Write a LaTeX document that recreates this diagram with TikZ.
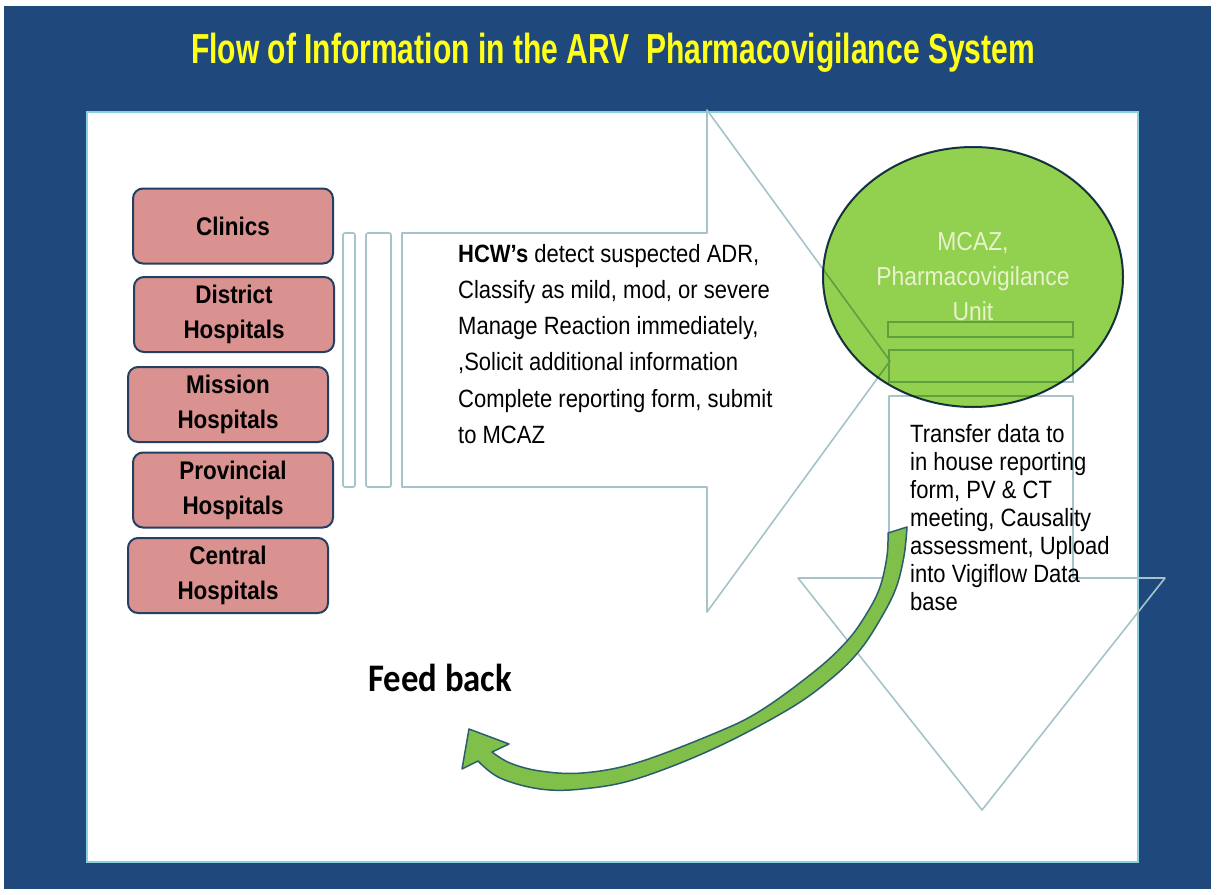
\documentclass[tikz,border=0pt]{standalone}
\usepackage{fontspec}
\setmainfont{Liberation Sans}
\newfontfamily\narrowsans[FakeStretch=0.88]{Liberation Sans}
\newfontfamily\titlesans[FakeStretch=0.715]{Liberation Sans}
\newfontfamily\calibrisans[FakeStretch=0.89]{Carlito}
\usetikzlibrary{shapes.geometric}

\definecolor{slideblue}{HTML}{1F497D}
\definecolor{panelline}{HTML}{8CCFE0}
\definecolor{outlinecol}{HTML}{A5C3C9}
\definecolor{boxfill}{HTML}{D9928F}
\definecolor{boxline}{HTML}{243F60}
\definecolor{ellfill}{HTML}{92D050}
\definecolor{ellline}{HTML}{1F3864}
\definecolor{elltext}{HTML}{E8F2CC}
\definecolor{fbfill}{HTML}{80C04A}
\definecolor{fbline}{HTML}{2B5D6B}
\definecolor{titleyellow}{HTML}{FFFF1A}

\tikzset{
  sitebox/.style={draw=boxline, fill=boxfill, line width=2pt, rounded corners=10pt,
    minimum width=200pt, minimum height=75pt, inner sep=0pt, align=center,
    font=\narrowsans\bfseries\fontsize{25.5}{35}\selectfont, text=black},
  hollow/.style={draw=outlinecol, line width=1.6pt, line join=round},
  stripe/.style={draw=outlinecol, line width=2pt},
  pvunit/.style={ellipse, draw=ellline, fill=ellfill, line width=2pt,
    minimum width=300pt, minimum height=260pt, inner sep=0pt},
  bodytext/.style={anchor=base west, inner sep=0pt, text=black},
}

\begin{document}
\begin{tikzpicture}[x=1pt, y=-1pt]
\useasboundingbox (0,0) rectangle (1217,894);
\fill[white] (0,0) rectangle (1217,894);
% slide background and white panel
\fill[slideblue] (4,6) rectangle (1211,889);
\draw[draw=panelline, fill=white, line width=2pt] (87,112) rectangle (1138,862);

% title
\node[anchor=base, inner sep=0pt, text=titleyellow,
      font=\titlesans\bfseries\fontsize{42}{48}\selectfont] (title) at (613,63)
  {Flow of Information in the ARV\ \ Pharmacovigilance System};

% reporting sites
\node[sitebox] (clinics)    at (233,226)   {Clinics};
\node[sitebox] (district)   at (234,314.5) {District\\Hospitals};
\node[sitebox] (mission)    at (228,404.5) {Mission\\Hospitals};
\node[sitebox] (provincial) at (233,490)   {Provincial\\Hospitals};
\node[sitebox] (central)    at (228,575.5) {Central\\Hospitals};

% striped block arrow towards the unit
\draw[hollow, rounded corners=2pt] (343,233) rectangle (355,487);
\draw[hollow, rounded corners=2pt] (366,233) rectangle (391,487);
\draw[hollow] (402,233) -- (707,233) -- (707,110) -- (890,361)
  -- (707,612) -- (707,487) -- (402,487) -- cycle;

% striped block arrow pointing down
\draw[stripe] (888,322) rectangle (1073,337);
\draw[stripe] (889,350) rectangle (1073,382);
\draw[hollow] (889,396) -- (1073,396) -- (1073,578) -- (1165,578)
  -- (982,810) -- (798,578) -- (889,578) -- cycle;

% pharmacovigilance unit
\begin{scope}[blend mode=multiply]
  \node[pvunit] (pvunit) at (973,277) {};
\end{scope}
\node[align=center, inner sep=0pt, text=elltext,
      font=\narrowsans\fontsize{26}{35}\selectfont] (pvlabel) at (pvunit.center)
  {MCAZ,\\Pharmacovigilance\\Unit};

% health care worker tasks
\node[bodytext] (hcw) at (458,262) {\parbox[t]{360pt}{\raggedright
  \narrowsans\fontsize{25}{36.3}\selectfont
  \textbf{HCW’s} detect suspected ADR,\\
  Classify as mild, mod, or severe\\
  Manage Reaction immediately,\\
  ,Solicit additional information\\
  Complete reporting form, submit\\
  to MCAZ}};

% feedback arrow
\filldraw[fill=fbfill, draw=fbline, line width=1.5pt, line join=round]
  (478,761)
  -- plot[smooth, tension=0.6] coordinates {(478,761) (500,778) (540,789) (582,789)
     (636,779) (713,749) (789,709) (832,678) (860,650) (881,618) (896,588)
     (904,556) (907,527)}
  -- plot[smooth, tension=0.6] coordinates {(888,533) (887,556) (880,587) (867,613)
     (847,641) (815,671) (760,711) (713,734) (636,763) (582,773) (540,771)
     (510,763) (492,752)}
  -- (509,744) -- (469,729) -- (462,769) -- cycle;

% unit tasks
\node[bodytext] (unittasks) at (910,442) {\parbox[t]{240pt}{\raggedright
  \narrowsans\fontsize{25}{28.1}\selectfont
  Transfer data to\\
  in house reporting\\
  form, PV \& CT\\
  meeting, Causality\\
  assessment, Upload\\
  into Vigiflow Data\\
  base}};

\node[bodytext, font=\calibrisans\bfseries\fontsize{39}{45}\selectfont] (feedback)
  at (368,691) {Feed back};
\end{tikzpicture}
\end{document}
